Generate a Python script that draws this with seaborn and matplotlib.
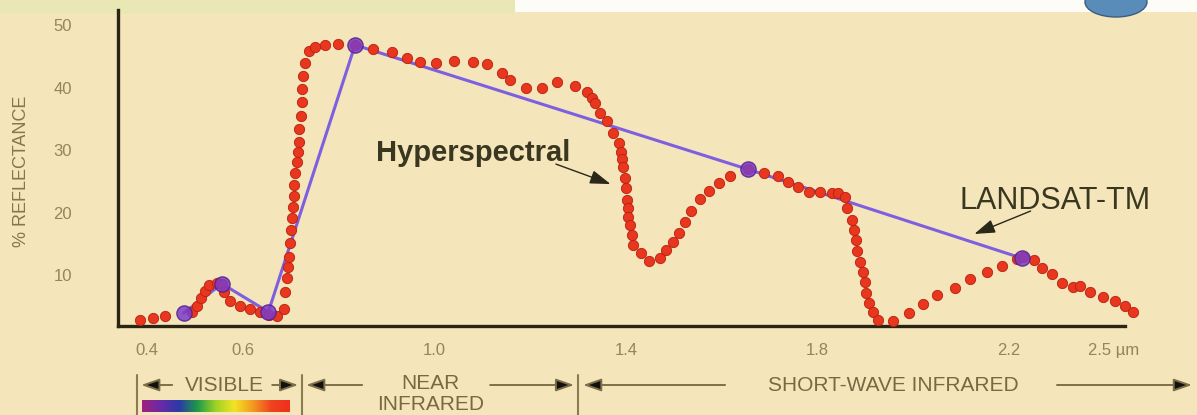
import numpy as np
import pandas as pd
import matplotlib
matplotlib.use("Agg")
import matplotlib.pyplot as plt
import seaborn as sns
from matplotlib import transforms
from matplotlib.patches import Rectangle, Ellipse
from matplotlib.colors import LinearSegmentedColormap

# ---------------- data ----------------
hyper_wl = [0.385, 0.412, 0.438, 0.494, 0.504, 0.513, 0.520, 0.530, 0.545, 0.556,
            0.560, 0.573, 0.594, 0.615, 0.636, 0.655, 0.672, 0.686,
            0.688, 0.692, 0.695, 0.697, 0.699, 0.700, 0.702, 0.704, 0.706, 0.707,
            0.709, 0.713, 0.714, 0.716, 0.718, 0.721, 0.723, 0.724, 0.726, 0.730,
            0.737, 0.751, 0.772, 0.799, 0.834,
            0.872, 0.911, 0.942, 0.969, 1.003, 1.041, 1.081, 1.110, 1.140, 1.158,
            1.191, 1.225, 1.255, 1.294, 1.318, 1.328, 1.335,
            1.346, 1.360, 1.372, 1.386, 1.389, 1.391, 1.394, 1.398, 1.400, 1.401,
            1.403, 1.405, 1.408, 1.412, 1.414, 1.431, 1.447, 1.471, 1.484, 1.498,
            1.511, 1.522, 1.536, 1.555, 1.574, 1.595, 1.616, 1.655,
            1.687, 1.718, 1.739, 1.760, 1.781, 1.805, 1.829, 1.843, 1.857, 1.862,
            1.871, 1.876, 1.880, 1.883, 1.889, 1.894, 1.899, 1.902, 1.908, 1.915,
            1.927, 1.958, 1.990,
            2.021, 2.049, 2.087, 2.118, 2.153, 2.184, 2.216, 2.229, 2.252, 2.268,
            2.289, 2.310, 2.333, 2.348, 2.369, 2.396, 2.421, 2.442, 2.458]
hyper_refl = [2.8, 3.1, 3.4, 4.1, 5.0, 6.4, 7.5, 8.4, 8.8, 8.6,
              7.3, 5.9, 5.0, 4.5, 4.1, 3.6, 3.4, 4.6,
              7.3, 9.5, 11.3, 12.9, 15.1, 17.2, 19.1, 20.9, 22.7, 24.4,
              26.3, 28.1, 29.7, 31.3, 33.4, 35.4, 37.7, 39.7, 41.8, 44.0,
              45.9, 46.5, 46.8, 46.9, 46.8,
              46.2, 45.7, 44.8, 44.1, 44.0, 44.2, 44.1, 43.7, 42.4, 41.2,
              40.0, 40.0, 40.9, 40.3, 39.3, 38.4, 37.5,
              36.0, 34.7, 32.8, 31.2, 29.7, 28.5, 27.3, 25.6, 23.9, 22.0,
              20.7, 19.3, 18.0, 16.4, 14.8, 13.5, 12.3, 12.7, 14.0, 15.3,
              16.8, 18.5, 20.3, 22.1, 23.5, 24.8, 25.8, 26.9,
              26.3, 25.8, 24.9, 24.1, 23.3, 23.3, 23.2, 23.1, 22.5, 20.7,
              18.8, 17.2, 15.6, 13.9, 12.1, 10.5, 8.9, 7.2, 5.5, 4.1,
              2.8, 2.6, 3.9,
              5.4, 6.8, 7.9, 9.3, 10.5, 11.5, 12.5, 12.9, 12.4, 11.2,
              10.1, 8.8, 8.1, 8.2, 7.3, 6.5, 5.9, 5.0, 4.1]

tm_wl = [0.476, 0.556, 0.653, 0.834, 1.655, 2.226]
tm_refl = [3.9, 8.6, 4.1, 46.8, 26.9, 12.7]

xtick_pos = [0.4, 0.6, 0.8, 1.0, 1.2, 1.4, 1.6, 1.8, 2.0, 2.2, 2.4]
xtick_labels = ["0.4", "0.6", "", "1.0", "", "1.4", "", "1.8", "", "2.2", "2.5 \u00b5m"]
ytick_pos = [10, 20, 30, 40, 50]

region_labels = ["VISIBLE", "NEAR\nINFRARED", "SHORT-WAVE INFRARED"]
series_labels = ["Hyperspectral", "LANDSAT-TM"]

# ---------------- style ----------------
sns.set_style("white")
plt.rcParams['font.family'] = ['Liberation Sans', 'DejaVu Sans']

W, H = 1197, 415
BG = '#f4e5bb'
TXT = '#3a3720'
OLIVE = '#766a42'
TICKC = '#948656'

fig = plt.figure(figsize=(W / 100, H / 100), dpi=100, facecolor=BG)

def fx(px):
    return px / W

def fy(py):
    return (H - py) / H

# decorative screenshot strip
fig.add_artist(Rectangle((0, fy(14)), fx(515), 14 / H, transform=fig.transFigure,
                         color='#e7eab3', alpha=0.8, lw=0, zorder=0))
fig.add_artist(Rectangle((fx(515), fy(12)), 1 - fx(515), 12 / H, transform=fig.transFigure,
                         color='#fdfcf6', lw=0, zorder=0))
fig.add_artist(Ellipse((fx(1116), fy(2)), 62 / W, 30 / H, transform=fig.transFigure,
                       facecolor='#5a8cba', edgecolor='#3a5d80', lw=1.0, zorder=1))

ax = fig.add_axes([fx(118), fy(326), (1138.5 - 118) / W, 316 / H])
ax.patch.set_alpha(0)

df_h = pd.DataFrame({"wl": hyper_wl, "refl": hyper_refl})
df_t = pd.DataFrame({"wl": tm_wl, "refl": tm_refl})

sns.lineplot(data=df_t, x="wl", y="refl", ax=ax, sort=False, color='#7d5fe0',
             linewidth=2.2, zorder=2)
sns.scatterplot(data=df_h, x="wl", y="refl", ax=ax, s=55, color='#e8361f',
                edgecolor='#b5210f', linewidth=0.6, zorder=3, clip_on=False)
sns.scatterplot(data=df_t, x="wl", y="refl", ax=ax, s=120, color='#7b3cc8',
                edgecolor='#55208c', linewidth=1.0, alpha=0.85, zorder=4, clip_on=False)

ax.set_xlim(0.339, 2.47)
ax.set_ylim(1.84, 52.4)
ax.set_xlabel("")
ax.set_ylabel("")

for s in ['top', 'right']:
    ax.spines[s].set_visible(False)
for s in ['left', 'bottom']:
    ax.spines[s].set_color('#2b2414')
    ax.spines[s].set_linewidth(2.4)
ax.spines['bottom'].set_bounds(0.339, 2.442)

ax.set_xticks(xtick_pos, xtick_labels)
ax.set_yticks(ytick_pos)
ax.tick_params(axis='x', length=9, width=1.5, color='#5c5030', pad=3,
               labelsize=12, labelcolor=TICKC, direction='out')
ax.tick_params(axis='y', length=19, width=1.8, color='#4a4028', pad=14,
               labelsize=12, labelcolor=TICKC, direction='out')
last = ax.get_xticklabels()[-1]
last.set_horizontalalignment('left')
last.set_transform(last.get_transform() +
                   transforms.ScaledTranslation(-17 / 100, 0, fig.dpi_scale_trans))

fig.text(fx(22), fy(171), "% REFLECTANCE", rotation=90, ha='center', va='center',
         fontsize=13, color='#857748')

# series annotations
ax.text(1.081, 29.5, series_labels[0], ha='center', va='center', fontsize=21,
        fontweight='bold', color=TXT)
ax.annotate('', xy=(1.373, 24.4), xytext=(1.248, 27.9),
            arrowprops=dict(arrowstyle='-|>,head_length=0.9,head_width=0.3',
                            color='#2a2818', lw=1.0, mutation_scale=14))
ax.text(2.296, 21.8, series_labels[1], ha='center', va='center', fontsize=22,
        color=TXT)
ax.annotate('', xy=(2.122, 16.4), xytext=(2.250, 20.4),
            arrowprops=dict(arrowstyle='-|>,head_length=0.9,head_width=0.3',
                            color='#2a2818', lw=1.0, mutation_scale=14))

# region bands under the axis
def dx(px):
    return 0.4 + (px - 147) / 479

trans = transforms.blended_transform_factory(ax.transData, fig.transFigure)
for bx in [137, 302, 578]:
    ax.plot([dx(bx), dx(bx)], [fy(375), fy(415)], transform=trans, color='#8a7d50',
            lw=1.5, clip_on=False)

arrows = [(172, 141), (272, 298), (362, 306), (490, 574), (725, 583), (1057, 1192)]
for tail, head in arrows:
    ax.annotate('', xy=(dx(head), fy(385)), xytext=(dx(tail), fy(385)),
                xycoords=trans, textcoords=trans, annotation_clip=False,
                arrowprops=dict(arrowstyle='-|>,head_length=1.0,head_width=0.35',
                                fc='#111111', ec='#7d7049', lw=1.4,
                                mutation_scale=11, shrinkA=0, shrinkB=0))

ax.text(dx(224), fy(385), region_labels[0], transform=trans, ha='center',
        va='center', fontsize=15, color=OLIVE, clip_on=False)
near, infra = region_labels[1].split("\n")
ax.text(dx(430), fy(383), near, transform=trans, ha='center', va='center',
        fontsize=15, color=OLIVE, clip_on=False)
ax.text(dx(430), fy(404), infra, transform=trans, ha='center', va='center',
        fontsize=15, color=OLIVE, clip_on=False)
ax.text(dx(893), fy(385), region_labels[2], transform=trans, ha='center',
        va='center', fontsize=15, color=OLIVE, clip_on=False)

# visible-spectrum colour bar
cax = fig.add_axes([fx(142), fy(412), 148 / W, 12 / H])
spec = LinearSegmentedColormap.from_list(
    "spec", ['#a0207e', '#6a2aa8', '#2a3aa8', '#1f9a4a', '#9fd226', '#f2e424',
             '#f29a22', '#f0431f', '#ee2f1c'])
cax.imshow(np.linspace(0, 1, 256)[None, :], aspect='auto', cmap=spec)
cax.set_axis_off()

fig.savefig("out.png", dpi=100, facecolor=BG)
